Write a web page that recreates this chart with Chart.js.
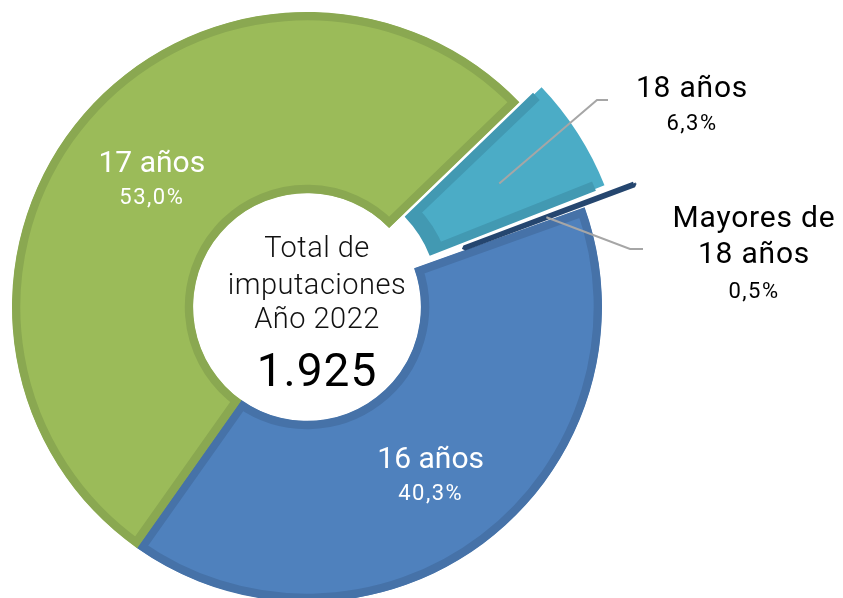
<!DOCTYPE html>
<html>
<head>
<meta charset="utf-8">
<script src="https://cdn.jsdelivr.net/npm/chart.js@4"></script>
<style>
  html, body { margin: 0; padding: 0; background: #ffffff; }
  #wrap { width: 843px; height: 598px; position: relative; }
</style>
</head>
<body>
<div id="wrap"><canvas id="c" width="843" height="598"></canvas></div>
<script>
// ---- data ----
const categories = ['16 años', '17 años', '18 años', 'Mayores de 18 años'];
const labelLines = [['16 años'], ['17 años'], ['18 años'], ['Mayores de', '18 años']];
const imputaciones = [775, 1020, 121, 9];
const centerTitle = ['Total de', 'imputaciones', 'Año 2022'];

// ---- styles ----
const fillColors = ['#4f81bd', '#9bbb59', '#4bacc6', '#25466f'];
const borderColors = ['#4672a8', '#8aa851', '#4299b2', '#25466f'];
const borderWidths = [8, 8, 8, 5];
const borderAligns = ['inner', 'inner', 'inner', 'center'];
const explode = [0, 0, 67, 110];
const labelInside = [true, true, false, false];
// outside labels: elbow point of leader, end of leader, text center x, baselines
const outside = {
  2: { elbow: [597, 100], end: [608, 100], tx: 692, base: [97], pctBase: 130 },
  3: { elbow: [630, 249], end: [643, 249], tx: 754, base: [227, 263], pctBase: 298 }
};

const total = imputaciones.reduce((a, b) => a + b, 0);
function pctText(v) { return (v / total * 100).toFixed(1).replace('.', ',') + '%'; }
function thousands(n) { return String(n).replace(/\B(?=(\d{3})+(?!\d))/g, '.'); }

const labelPlugin = {
  id: 'labels',
  beforeDraw(chart) {
    const ctx = chart.ctx;
    ctx.save();
    ctx.fillStyle = '#ffffff';
    ctx.fillRect(0, 0, chart.width, chart.height);
    ctx.restore();
  },
  afterDatasetsDraw(chart) {
    const ctx = chart.ctx;
    const meta = chart.getDatasetMeta(0);
    ctx.save();
    ctx.textAlign = 'center';
    ctx.textBaseline = 'alphabetic';
    meta.data.forEach((arc, i) => {
      const p = arc.getProps(['x', 'y', 'startAngle', 'endAngle', 'innerRadius', 'outerRadius']);
      const mid = (p.startAngle + p.endAngle) / 2;
      const off = arc.options.offset || 0;
      const circ = p.endAngle - p.startAngle;
      const fix = 1 - Math.sin(Math.min(Math.PI, circ));
      const eff = off / 4 * (1 + fix);
      const midR = (p.innerRadius + p.outerRadius) / 2;
      if (labelInside[i]) {
        const x = p.x + Math.cos(mid) * midR;
        const y = p.y + Math.sin(mid) * midR;
        ctx.fillStyle = '#ffffff';
        ctx.font = '400 30px Roboto';
        ctx.letterSpacing = '0px';
        ctx.fillText(labelLines[i][0], x, y - 2);
        ctx.font = '400 22px Roboto';
        ctx.letterSpacing = '1.5px';
        ctx.fillText(pctText(imputaciones[i]), x, y + 30);
      } else {
        const o = outside[i];
        const r = eff + midR - 3;
        const sx = p.x + Math.cos(mid) * r;
        const sy = p.y + Math.sin(mid) * r;
        ctx.strokeStyle = '#a6a6a6';
        ctx.lineWidth = 2;
        ctx.beginPath();
        ctx.moveTo(sx, sy);
        ctx.lineTo(o.elbow[0], o.elbow[1]);
        ctx.lineTo(o.end[0], o.end[1]);
        ctx.stroke();
        ctx.fillStyle = '#000000';
        ctx.font = '400 30px Roboto';
        ctx.letterSpacing = '0.8px';
        labelLines[i].forEach((t, k) => ctx.fillText(t, o.tx, o.base[k]));
        ctx.font = '400 22px Roboto';
        ctx.letterSpacing = '1.5px';
        ctx.fillText(pctText(imputaciones[i]), o.tx, o.pctBase);
      }
    });
    // center text
    const a0 = meta.data[0];
    const cx = a0.x + 10, cy = a0.y;
    ctx.fillStyle = '#111111';
    ctx.letterSpacing = '0.5px';
    ctx.font = '300 29px Roboto';
    ctx.fillText(centerTitle[0], cx, cy - 50);
    ctx.fillText(centerTitle[1], cx, cy - 13);
    ctx.fillText(centerTitle[2], cx, cy + 21);
    ctx.fillStyle = '#000000';
    ctx.font = '400 46px Roboto';
    ctx.letterSpacing = '1px';
    ctx.fillText(thousands(total), cx, cy + 79);
    ctx.restore();
  }
};

new Chart(document.getElementById('c'), {
  type: 'doughnut',
  data: {
    labels: categories,
    datasets: [{
      data: imputaciones,
      backgroundColor: fillColors,
      borderColor: borderColors,
      borderWidth: borderWidths,
      borderAlign: borderAligns,
      offset: explode,
      hoverOffset: 0,
      clip: false
    }]
  },
  options: {
    responsive: false,
    animation: false,
    rotation: 70.3,
    radius: 295,
    cutout: '38.6%',
    layout: { padding: { left: 0, right: 229, top: 16, bottom: 0 } },
    plugins: {
      legend: { display: false },
      tooltip: { enabled: false }
    }
  },
  plugins: [labelPlugin]
});
</script>
</body>
</html>
